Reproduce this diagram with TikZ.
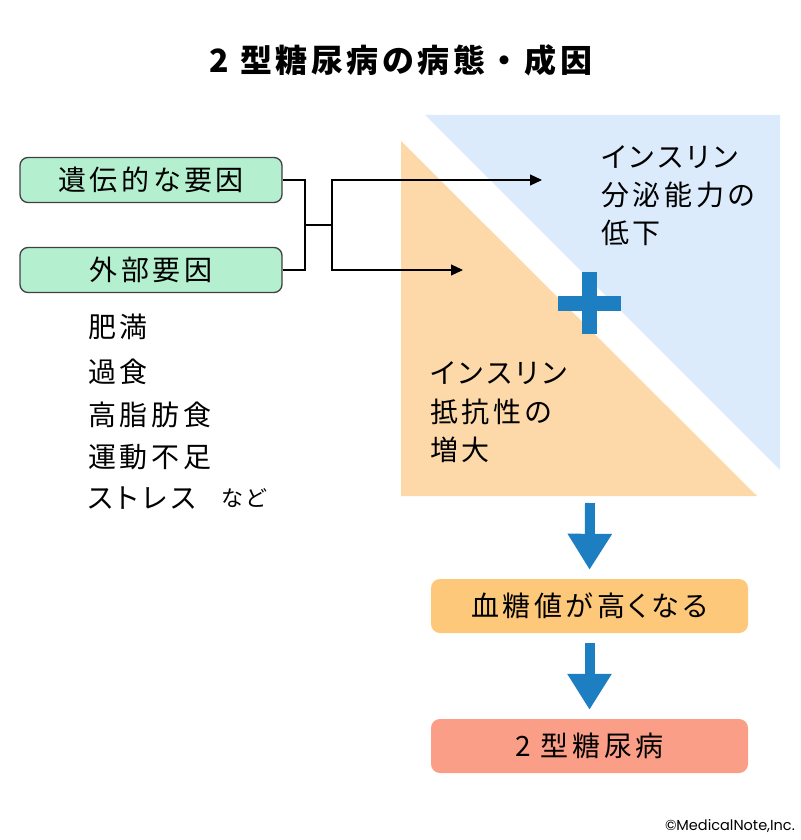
\documentclass[tikz,border=0pt]{standalone}
\usepackage{fontspec}
\newfontfamily\jpfont{Noto Sans CJK JP}[LetterSpace=13,RawFeature=+palt]
\newfontfamily\titlefont{Noto Sans CJK JP}[LetterSpace=11]
\newfontfamily\notefont{Poppins}
\usetikzlibrary{arrows.meta}

\begin{document}
\begin{tikzpicture}[x=1pt, y=-1pt,
    every node/.style={font=\jpfont\fontsize{28}{34}\selectfont, inner sep=0pt},
    factorbox/.style={draw=linegray, line width=1.3pt, fill=factorgreen, rounded corners=8pt, minimum width=262pt, minimum height=45pt},
    resultbox/.style={rounded corners=9pt, minimum width=317pt, minimum height=54pt},
    linetext/.style={anchor=west},
    thinline/.style={draw=black, line width=1.2pt},
    flowarrow/.style={draw=flowblue, line width=10pt, -{Triangle[length=36pt,width=42pt]}}]

    % Colors
    \definecolor{linegray}{RGB}{64,64,64}
    \definecolor{factorgreen}{RGB}{180,240,207}
    \definecolor{insulinblue}{RGB}{219,235,252}
    \definecolor{insulinorange}{RGB}{253,217,169}
    \definecolor{flowblue}{RGB}{30,126,194}
    \definecolor{highsugar}{RGB}{254,200,122}
    \definecolor{diabetes}{RGB}{250,158,135}

    \useasboundingbox (0,0) rectangle (800,840);

    % Title
    \node[font=\titlefont\bfseries\fontsize{32}{40}\selectfont] (title) at (401,60) {2 型糖尿病の病態・成因};

    % Triangles
    \fill[insulinblue] (425,115) -- (780,115) -- (780,470) -- cycle;
    \fill[insulinorange] (401,141) -- (401,496) -- (757,496) -- cycle;

    % Plus
    \fill[flowblue] (582,272) rectangle (597,334);
    \fill[flowblue] (558,296) rectangle (621,311);

    % Factors
    \node[factorbox] (genetic) at (151,180) {遺伝的な要因};
    \node[factorbox] (external) at (151,270) {外部要因};

    \node[linetext] (obesity) at (88,327) {肥満};
    \node[linetext] (overeating) at (88,372) {過食};
    \node[linetext] (fatfood) at (88,415) {高脂肪食};
    \node[linetext] (noexercise) at (88,457) {運動不足};
    \node[linetext] (stress) at (88,498) {ストレス};
    \node[linetext, font=\jpfont\fontsize{22}{26}\selectfont] (etc) at (221,498) {など};

    % Insulin texts
    \node[linetext] (sec1) at (601,157) {インスリン};
    \node[linetext] (sec2) at (601,195) {分泌能力の};
    \node[linetext] (sec3) at (601,233) {低下};

    \node[linetext] (res1) at (430,373) {インスリン};
    \node[linetext] (res2) at (430,412) {抵抗性の};
    \node[linetext] (res3) at (430,450) {増大};

    % Results
    \node[resultbox, fill=highsugar] (high) at (589.5,606) {血糖値が高くなる};
    \node[resultbox, fill=diabetes] (dm) at (589.5,746) {2 型糖尿病};

    \node[font=\notefont\fontsize{14.5}{16}\selectfont, anchor=east] (credit) at (795,826) {©MedicalNote,Inc.};

    % Connectors
    \coordinate (join) at (305,225);
    \coordinate (fork) at (332,225);
    \coordinate (tosecretion) at (542,180);
    \coordinate (toresistance) at (463,270);
    \coordinate (trianglebase) at (590,503);

    \draw[thinline] (genetic.east) -| (join);
    \draw[thinline] (external.east) -| (join);
    \draw[thinline] (join) -- (fork);
    \draw[thinline, -{Triangle[length=12pt,width=11pt]}] (fork) |- (tosecretion);
    \draw[thinline, -{Triangle[length=12pt,width=11pt]}] (fork) |- (toresistance);

    % Arrows
    \draw[flowarrow, shorten >=9pt] (trianglebase) -- (high.north);
    \draw[flowarrow, shorten <=10pt, shorten >=9pt] (high.south) -- (dm.north);

\end{tikzpicture}
\end{document}
